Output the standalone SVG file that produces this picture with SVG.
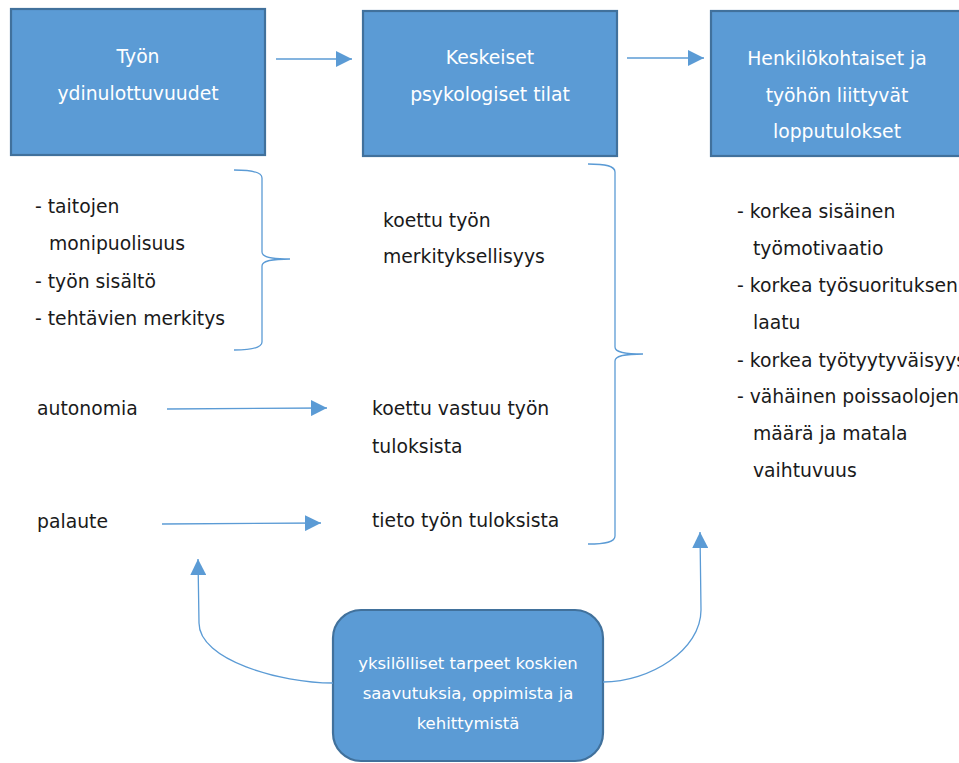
<svg xmlns="http://www.w3.org/2000/svg" width="959" height="763" viewBox="0 0 959 763">
<defs>
<marker id="ah" markerUnits="userSpaceOnUse" markerWidth="16" markerHeight="16" viewBox="0 0 16 16" refX="16" refY="8" orient="auto">
<path d="M0,0 L16,8 L0,16 Z" fill="#5b9bd5"/>
</marker>
<style>
.box{fill:#5b9bd5;stroke:#41719c;stroke-width:2.2}
.bt{font-family:"DejaVu Sans",sans-serif;font-size:18.8px;fill:#ffffff;text-anchor:middle}
.t{font-family:"DejaVu Sans",sans-serif;font-size:18.8px;fill:#1a1a1a}
.st{font-family:"DejaVu Sans",sans-serif;font-size:16.5px;fill:#ffffff;text-anchor:middle}
.c{fill:none;stroke:#5b9bd5;stroke-width:1.3}
.ca{fill:none;stroke:#5b9bd5;stroke-width:1.3;marker-end:url(#ah)}
</style>
</defs>
<rect width="959" height="763" fill="#ffffff"/>
<g id="node-ydin">
<rect class="box" x="11" y="9" width="254" height="146"/>
<text class="bt" x="138" y="63">Työn</text>
<text class="bt" x="138" y="100">ydinulottuvuudet</text>
</g>
<g id="node-psyk">
<rect class="box" x="363" y="11" width="254" height="145"/>
<text class="bt" x="490" y="64">Keskeiset</text>
<text class="bt" x="490" y="101">psykologiset tilat</text>
</g>
<g id="node-lopp">
<rect class="box" x="711" y="11" width="260" height="145"/>
<text class="bt" x="837" y="65">Henkilökohtaiset ja</text>
<text class="bt" x="837" y="102">työhön liittyvät</text>
<text class="bt" x="837" y="138">lopputulokset</text>
</g>
<g id="node-left-list">
<text class="t" x="35" y="213">- taitojen</text>
<text class="t" x="49" y="250">monipuolisuus</text>
<text class="t" x="35" y="288">- työn sisältö</text>
<text class="t" x="35" y="325">- tehtävien merkitys</text>
</g>
<g id="node-autonomia"><text class="t" x="37" y="415">autonomia</text></g>
<g id="node-palaute"><text class="t" x="37" y="528">palaute</text></g>
<g id="node-merk">
<text class="t" x="383" y="227">koettu työn</text>
<text class="t" x="383" y="263">merkityksellisyys</text>
</g>
<g id="node-vastuu">
<text class="t" x="372" y="415">koettu vastuu työn</text>
<text class="t" x="372" y="453">tuloksista</text>
</g>
<g id="node-tieto"><text class="t" x="372" y="527">tieto työn tuloksista</text></g>
<g id="node-right-list">
<text class="t" x="737" y="218">- korkea sisäinen</text>
<text class="t" x="753" y="255">työmotivaatio</text>
<text class="t" x="737" y="292">- korkea työsuorituksen</text>
<text class="t" x="753" y="329">laatu</text>
<text class="t" x="737" y="367">- korkea työtyytyväisyys</text>
<text class="t" x="737" y="403">- vähäinen poissaolojen</text>
<text class="t" x="753" y="440">määrä ja matala</text>
<text class="t" x="753" y="477">vaihtuvuus</text>
</g>
<g id="node-tarpeet">
<rect class="box" x="333" y="610" width="270" height="151" rx="28" ry="28"/>
<text class="st" x="468" y="669">yksilölliset tarpeet koskien</text>
<text class="st" x="468" y="699">saavutuksia, oppimista ja</text>
<text class="st" x="468" y="729">kehittymistä</text>
</g>
<g id="connectors">
<path class="ca" d="M276,59 L352,59"/>
<path class="ca" d="M627,58 L704,58"/>
<path class="ca" d="M167,409 L327,408"/>
<path class="ca" d="M162,524 L321,523"/>
<path class="c" d="M234,170 C252,170 262,172 262,178 L262,252 C262,257 270,259 290,259 C270,259 262,261 262,266 L262,342 C262,348 252,350 234,350"/>
<path class="c" d="M588,164 C606,164 615,166 615,172 L615,347 C615,352 623,354 643,354 C623,354 615,356 615,361 L615,536 C615,542 606,544 588,544"/>
<path class="ca" d="M333,683 C280,683 199,660 199,623 L198,559"/>
<path class="ca" d="M603,682 C650,682 701,650 701,610 L700,532"/>
</g>
</svg>
